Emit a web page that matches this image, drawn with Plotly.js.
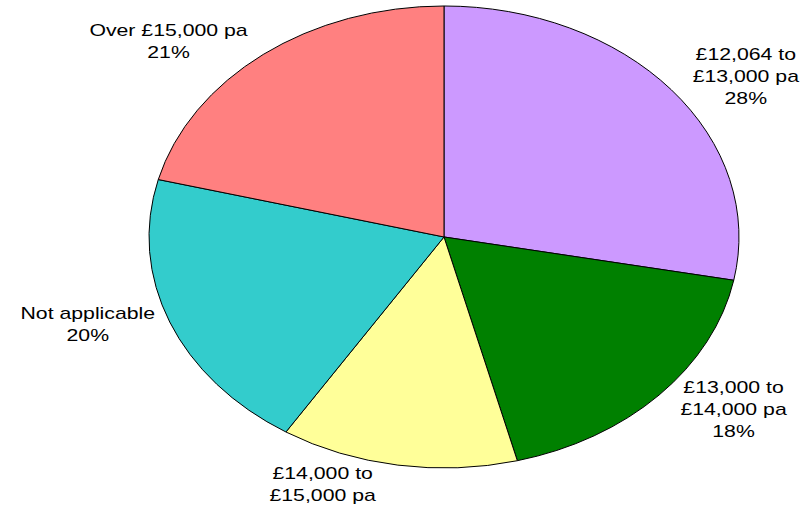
<!DOCTYPE html>
<html>
<head>
<meta charset="utf-8">
<script src="https://cdn.plot.ly/plotly-3.0.1.min.js"></script>
<style>html,body{margin:0;padding:0;background:#fff}</style>
</head>
<body>
<div id="plot" style="width:801px;height:508px"></div>
<script>
var bands = ['£12,064 to<br>£13,000 pa', '£13,000 to<br>£14,000 pa', '£14,000 to<br>£15,000 pa', 'Not applicable', 'Over £15,000 pa'];
var shares = [28, 18, 13, 20, 21];
var colours = ['#CC99FF', '#008000', '#FFFF99', '#33CCCC', '#FF8080'];

// the original pie was stretched sideways into an ellipse, text included
var stretchX = 295 / 231;
var textStretch = 1.25;

var trace = {
  type: 'pie',
  labels: bands,
  values: shares,
  sort: false,
  direction: 'clockwise',
  rotation: 0,
  marker: {colors: colours, line: {color: '#000', width: 1}},
  texttemplate: '%{label}<br>%{percent:.0%}',
  textposition: 'outside',
  outsidetextfont: {family: 'Liberation Sans, Arial, sans-serif', size: 17, color: '#000'},
  hoverinfo: 'none',
  domain: {x: [0.2659, 0.8427], y: [0.0788, 0.9882]}
};

var layout = {
  width: 801,
  height: 508,
  margin: {l: 0, r: 0, t: 0, b: 0},
  showlegend: false,
  paper_bgcolor: '#fff'
};

function squash() {
  var gd = document.getElementById('plot');
  var paths = gd.querySelectorAll('.pielayer path.surface');
  var minS = Infinity, maxS = -Infinity, minL = Infinity, maxL = -Infinity;
  paths.forEach(function (p) {
    var r = p.getBoundingClientRect(), b = p.getBBox();
    minS = Math.min(minS, r.left); maxS = Math.max(maxS, r.right);
    minL = Math.min(minL, b.x); maxL = Math.max(maxL, b.x + b.width);
  });
  var midS = (minS + maxS) / 2;
  var cx = (minL + maxL) / 2;
  var off = minS - minL;
  paths.forEach(function (p) {
    p.setAttribute('transform', 'translate(' + cx + ',0) scale(' + stretchX + ',1) translate(' + (-cx) + ',0)');
    p.setAttribute('vector-effect', 'non-scaling-stroke');
  });
  gd.querySelectorAll('.pielayer g.slicetext').forEach(function (t) {
    var r = t.getBoundingClientRect();
    var c = (r.left + r.right) / 2;
    var dx = (stretchX - 1) * (c - midS);
    var lc = c - off;
    var old = t.getAttribute('transform') || '';
    t.setAttribute('transform', 'translate(' + (lc + dx) + ',0) scale(' + textStretch + ',1) translate(' + (-lc) + ',0) ' + old);
  });
}

Plotly.newPlot('plot', [trace], layout, {staticPlot: true}).then(squash);
</script>
</body>
</html>
